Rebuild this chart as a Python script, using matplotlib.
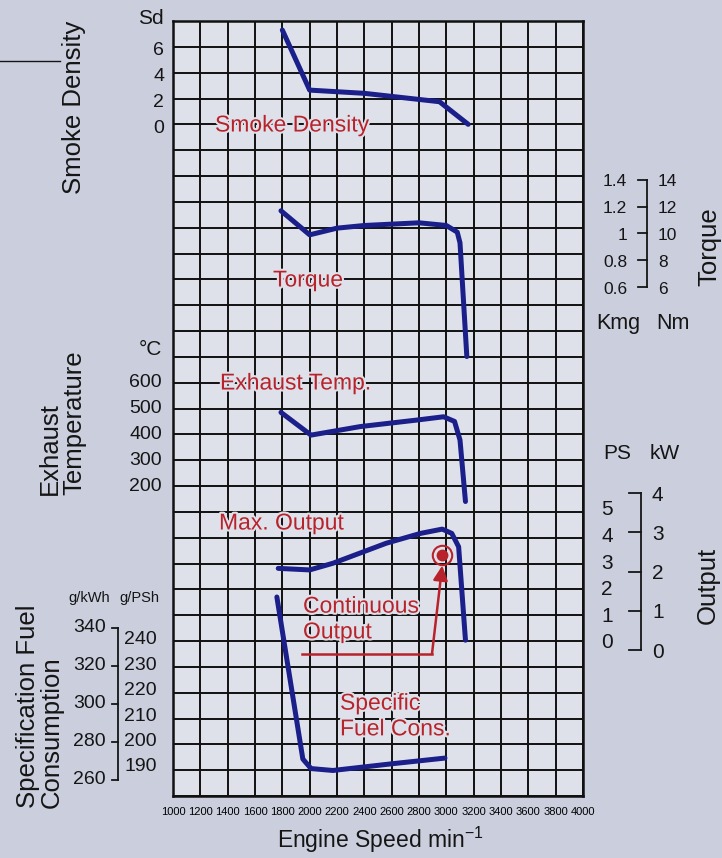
import matplotlib
matplotlib.use('Agg')
import matplotlib.pyplot as plt
import matplotlib.transforms as mtransforms
import matplotlib.patheffects as pe

plt.rcParams['font.family'] = ['Liberation Sans', 'DejaVu Sans']
plt.rcParams['mathtext.fontset'] = 'custom'
plt.rcParams['mathtext.rm'] = 'Liberation Sans'

# values, x = engine speed (min-1)
smoke_rpm = [1800, 2000, 2400, 2950, 3160]
smoke_sd = [7.3, 2.65, 2.4, 1.75, 0.0]

torque_rpm = [1790, 2000, 2200, 2400, 2800, 3000, 3080, 3100, 3150]
torque_kgm = [1.17, 0.99, 1.04, 1.06, 1.08, 1.06, 1.01, 0.93, 0.08]

exhaust_rpm = [1790, 2010, 2370, 2780, 2980, 3060, 3100, 3140]
exhaust_c = [485, 397, 430, 455, 468, 450, 378, 140]

output_rpm = [1770, 2000, 2170, 2560, 2810, 2970, 3040, 3090, 3140]
output_kw = [2.08, 2.04, 2.21, 2.72, 2.97, 3.08, 2.97, 2.63, 0.25]

fuel_rpm = [1760, 1950, 2010, 2170, 2600, 2990]
fuel_gkwh = [356, 271, 266, 265, 268.5, 271.5]

cont_rpm = 2970
cont_kw = 2.42

speed_ticks = list(range(1000, 4001, 200))
smoke_ticks = [6, 4, 2, 0]
torque_kgm_ticks = [1.4, 1.2, 1.0, 0.8, 0.6]
torque_kgm_labels = ['1.4', '1.2', '1', '0.8', '0.6']
torque_nm_ticks = [14, 12, 10, 8, 6]
exhaust_ticks = [600, 500, 400, 300, 200]
output_kw_ticks = [4, 3, 2, 1, 0]
output_ps_ticks = [5, 4, 3, 2, 1, 0]
fuel_kwh_ticks = [340, 320, 300, 280, 260]
fuel_psh_ticks = [240, 230, 220, 210, 200, 190]

# colours
BG = '#cbcfdd'
CELL = '#dfe1ea'
BLUE = '#1b1f8a'
RED = '#b8232b'

# layout in pixels
W, H = 722, 858
L, R, T, B = 173, 583, 21, 796
NROWS = 30
row_h = (B - T) / NROWS


def row(k):
    return T + k * row_h


fig = plt.figure(figsize=(W / 100, H / 100), dpi=100)
fig.patch.set_facecolor(BG)
rect = [L / W, 1 - B / H, (R - L) / W, (B - T) / H]

# the grid
ax = fig.add_axes(rect)
ax.set_facecolor(CELL)
ax.set_xlim(1000, 4000)
ax.set_ylim(0, NROWS)
ax.set_xticks(speed_ticks)
ax.set_yticks(range(NROWS + 1))
ax.grid(True, color='#111111', lw=1.4)
ax.tick_params(length=0, labelleft=False, labelsize=8, pad=8)
for s in ax.spines.values():
    s.set_linewidth(1.8)
    s.set_color('#111111')


def panel(v1, y1, v2, y2):
    # overlay axes whose y scale puts value v1 at pixel y1 and v2 at y2
    a = fig.add_axes(rect, sharex=ax)
    slope = (v1 - v2) / (y2 - y1)
    a.set_ylim(v2 - (B - y2) * slope, v1 + (y1 - T) * slope)
    a.set_autoscale_on(False)
    a.axis('off')
    return a


def scale_text(a, x_px, vals, labels, ha, size, dy=0):
    tr = mtransforms.blended_transform_factory(fig.transFigure, a.transData)
    tr = tr + mtransforms.ScaledTranslation(0, -dy / 100, fig.dpi_scale_trans)
    for v, lab in zip(vals, labels):
        a.text(x_px / W, v, lab, transform=tr, ha=ha, va='center',
               fontsize=size, color='#151515')


def bracket(a, x_px, stub, vals):
    tr = mtransforms.blended_transform_factory(fig.transFigure, a.transData)
    a.plot([x_px / W] * 2, [min(vals), max(vals)], transform=tr,
           clip_on=False, color='#151515', lw=1.3)
    for v in vals:
        a.plot([(x_px - stub) / W, x_px / W], [v, v], transform=tr,
               clip_on=False, color='#151515', lw=1.3)


def ftext(x, y, s, **kw):
    kw.setdefault('color', '#151515')
    fig.text(x / W, 1 - y / H, s, **kw)


curve = dict(color=BLUE, lw=3.6, solid_joinstyle='round',
             solid_capstyle='round', zorder=5)

# smoke density
ax_sm = panel(6, row(1), 0, row(4))
ax_sm.plot(smoke_rpm, smoke_sd, **curve)
scale_text(ax_sm, 164, smoke_ticks, [str(v) for v in smoke_ticks], 'right', 14, dy=4)
ftext(164, 19, 'Sd', ha='right', va='center', fontsize=15)

# torque
ax_tq = panel(1.4, 180, 0.6, 287)
ax_tq.plot(torque_rpm, torque_kgm, **curve)
bracket(ax_tq, 647, 9, torque_kgm_ticks)
scale_text(ax_tq, 627, torque_kgm_ticks, torque_kgm_labels, 'right', 12.5, dy=2)
scale_text(ax_tq, 658, [v / 10 for v in torque_nm_ticks],
           [str(v) for v in torque_nm_ticks], 'left', 12.5, dy=2)
ftext(618, 323, 'Kmg', ha='center', va='center', fontsize=15.5)
ftext(673, 323, 'Nm', ha='center', va='center', fontsize=15.5)

# exhaust temperature
ax_ex = panel(600, row(14), 200, row(18))
ax_ex.plot(exhaust_rpm, exhaust_c, **curve)
scale_text(ax_ex, 162, exhaust_ticks, [str(v) for v in exhaust_ticks], 'right', 14)
ftext(162, 349, '°C', ha='right', va='center', fontsize=15)

# output
ax_out = panel(4, 493, 0, 650)
ax_out.plot(output_rpm, output_kw, **curve)
bracket(ax_out, 641, 12, output_kw_ticks)
scale_text(ax_out, 652, output_kw_ticks, [str(v) for v in output_kw_ticks],
           'left', 15, dy=2)
ps_pos = [0.18 + p * 0.678 for p in output_ps_ticks]
scale_text(ax_out, 613, ps_pos, [str(v) for v in output_ps_ticks], 'right', 15)
ftext(617, 453, 'PS', ha='center', va='center', fontsize=15)
ftext(665, 453, 'kW', ha='center', va='center', fontsize=15)

# continuous output marker and arrow
ax_out.plot([cont_rpm], [cont_kw], 'o', ms=14, mfc='none', mec=RED, mew=1.5, zorder=6)
ax_out.plot([cont_rpm], [cont_kw], 'o', ms=7.5, color=RED, zorder=6)
ax_out.plot([1944, 2895], [-0.1, -0.1], color=RED, lw=1.8, zorder=6)
ax_out.annotate('', xy=(cont_rpm, cont_kw - 0.27), xytext=(2895, -0.1),
                arrowprops=dict(arrowstyle='-|>', color=RED, lw=1.8,
                                mutation_scale=22, shrinkA=0, shrinkB=0),
                zorder=6)

# specific fuel consumption
ax_fu = panel(340, 627.5, 260, 780)
ax_fu.plot(fuel_rpm, fuel_gkwh, **curve)
bracket(ax_fu, 118, 6, fuel_kwh_ticks)
scale_text(ax_fu, 106, fuel_kwh_ticks, [str(v) for v in fuel_kwh_ticks], 'right', 14)
psh_pos = [333.5 - (240 - p) * 1.332 for p in fuel_psh_ticks]
scale_text(ax_fu, 124, psh_pos, [str(v) for v in fuel_psh_ticks], 'left', 14)
ftext(89, 598, 'g/kWh', ha='center', va='center', fontsize=10.5)
ftext(139, 598, 'g/PSh', ha='center', va='center', fontsize=10.5)

# red captions inside the grid
halo = [pe.withStroke(linewidth=3, foreground=CELL)]
red_kw = dict(color=RED, fontsize=16.5, va='center', ha='left',
              path_effects=halo, zorder=7, linespacing=1.15)
ftext(215, 125, 'Smoke Density', **red_kw)
ftext(273, 280, 'Torque', **red_kw)
ftext(220, 383, 'Exhaust Temp.', **red_kw)
ftext(219, 523, 'Max. Output', **red_kw)
ftext(303, 619, 'Continuous\nOutput', **red_kw)
ftext(340, 716, 'Specific\nFuel Cons.', **red_kw)

# axis titles
ftext(74, 107, 'Smoke Density', rotation=90, ha='center', va='center', fontsize=18.5)
ftext(62, 495, 'Exhaust\nTemperature', rotation=90, ha='center', va='bottom',
      fontsize=18.5, multialignment='left', linespacing=1.0)
ftext(40, 808, 'Specification Fuel\nConsumption', rotation=90, ha='center',
      va='bottom', fontsize=18.5, multialignment='left', linespacing=1.0)
ftext(709, 247, 'Torque', rotation=90, ha='center', va='center', fontsize=18.5)
ftext(708, 585, 'Output', rotation=90, ha='center', va='center', fontsize=18.5)
ftext(380, 840, r'Engine Speed min$^{\mathregular{-1}}$', ha='center',
      va='center', fontsize=16.5)

# short rule at the top left
fig.add_artist(plt.Line2D([0, 60 / W], [1 - 61 / H] * 2, color='#151515', lw=1))

fig.savefig('out.png', dpi=100, facecolor=BG)
